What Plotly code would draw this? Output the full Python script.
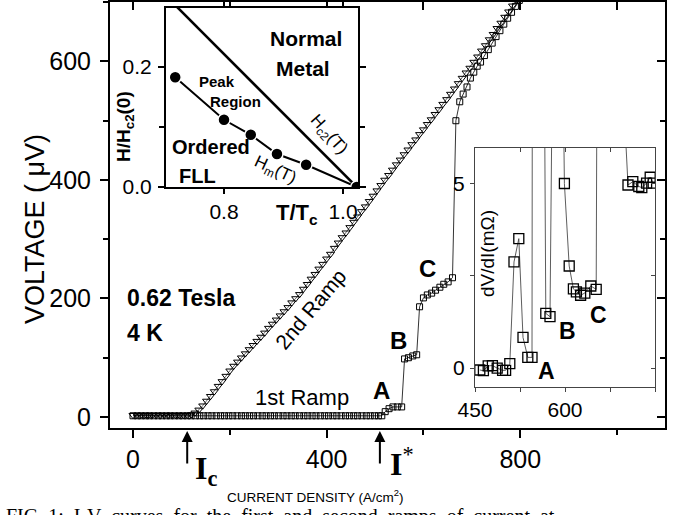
import plotly.graph_objects as go

W, H = 683, 515
def PX(x):
    return x / W
def PY(y):
    return 1 - y / H

# ---------------- data ----------------
# 1st ramp (open squares), current density (A/cm^2) and voltage (uV)
ramp1_x = [0, 9, 17, 26, 34, 43, 52, 60, 69, 77, 86, 95, 103, 112, 120, 129, 138, 146, 155, 163,
           172, 181, 189, 198, 206, 215, 224, 232, 241, 249, 258, 267, 275, 284, 292, 301, 310, 318, 327, 335,
           344, 353, 361, 370, 378, 387, 396, 404, 413, 421, 430, 439, 447, 456, 464, 473, 482, 490, 499, 507,
           514, 521, 529, 537, 546, 555,
           561, 569, 578, 586,
           592, 600, 608, 617, 625, 634, 642, 651, 660,
           667, 675, 682, 690, 697, 704, 711, 718, 726, 734, 742, 750, 758, 766, 774, 782, 790, 798, 806]
ramp1_v = [2, 2, 2, 2, 2, 2, 2, 2, 2, 2, 2, 2, 2, 2, 2, 2, 2, 2, 2, 2,
           2, 2, 2, 2, 2, 2, 2, 2, 2, 2, 2, 2, 2, 2, 2, 2, 2, 2, 2, 2,
           2, 2, 2, 2, 2, 2, 2, 2, 2, 2, 2, 2, 2, 2, 2, 2, 2, 2, 2, 2,
           2, 9, 14, 17, 17, 17,
           98, 100, 103, 105,
           186, 201, 206, 209, 214, 219, 224, 228, 235,
           500, 532, 545, 557, 572, 582, 592, 599, 610, 620, 631, 642, 652, 663, 673, 683, 693, 703, 712]

# 2nd ramp (open triangles)
ramp2_x = [0, 8, 16, 24, 32, 40, 48, 56, 64, 72, 80, 88, 96, 104, 112,
           120, 128, 136, 144, 152, 160, 168, 176, 184, 192, 200, 208,
           216, 224, 232, 240, 248, 256, 264, 272, 280,
           288, 296, 304, 312, 320, 328, 336, 344,
           352, 360, 368, 376, 384, 392, 400, 408,
           416, 424, 432, 440, 448, 456, 464, 472,
           480, 488, 496, 504, 512, 520, 528, 536, 544,
           552, 560, 568, 576, 584, 592, 600,
           608, 616, 624, 632, 640, 648, 656,
           664, 672, 680, 688, 696,
           704, 712, 720, 728, 736, 744, 752, 760, 768, 776, 784, 792]
ramp2_v = [3, 3, 3, 3, 3, 3, 3, 3, 3, 3, 3, 3, 3, 3, 3,
           4, 7, 12, 19, 27, 35, 43, 52, 60, 69, 78, 86,
           93, 100, 107, 114, 121, 128, 135, 142, 150,
           157, 164, 171, 178, 185, 193, 200, 207,
           216, 224, 233, 241, 250, 258, 267, 275,
           285, 294, 303, 311, 320, 329, 338, 347,
           355, 364, 373, 382, 391, 400, 408, 417, 426,
           434, 443, 451, 460, 468, 477, 485,
           494, 502, 511, 519, 528, 536, 545,
           554, 563, 572, 581, 589,
           599, 608, 618, 627, 637, 646, 656, 665, 675, 684, 694, 703]

# inset 1: phase diagram
hc2_t = [0.721, 1.023]
hc2_h = [0.300, 0.0]
hm_t = [0.718, 0.800, 0.845, 0.889, 0.938, 1.023]
hm_h = [0.183, 0.112, 0.087, 0.055, 0.037, 0.0]

# inset 2: dV/dI vs current density
didv_x = [458, 464, 472, 479, 487, 496, 501, 508, 515, 523, 530, 538, 545, 549, 568, 575, 582, 590,
          599, 607, 614, 619, 626, 633, 643, 652, 660, 667, 675, 682, 690, 697,
          705, 713, 723, 728, 736, 742, 747]
didv_y = [-0.05, -0.07, 0.06, 0.07, 0.0, -0.06, -0.06, 0.12, 2.87, 3.5, 0.83, 0.29, 0.29, 55, 1.48, 1.39, 13.6, 17.3,
          4.99, 2.76, 2.14, 2.06, 1.97, 2.03, 2.22, 2.13, 40, 60, 45, 25, 12, 7.5,
          4.95, 5.04, 4.91, 4.88, 5.0, 5.16, 5.0]

main_xr = [-47.5, 1099]
main_yr = [-18.6, 700.4]
in1_xr = [0.7025, 1.0252]
in1_yr = [0, 0.2983]
in2_xr = [450, 750]
in2_yr = [-0.51, 5.95]
in2_xticks = [450, 600]

SANS = "Liberation Sans, Arial, Helvetica, sans-serif"
SERIF = "Liberation Serif, Times New Roman, serif"

fig = go.Figure()

# main traces
fig.add_trace(go.Scatter(x=ramp1_x, y=ramp1_v, mode="lines+markers",
                         line=dict(color="black", width=0.8),
                         marker=dict(symbol="square-open", size=6, color="black", line=dict(width=1)),
                         xaxis="x", yaxis="y", showlegend=False, hoverinfo="skip"))
fig.add_trace(go.Scatter(x=ramp2_x, y=ramp2_v, mode="lines+markers",
                         line=dict(color="black", width=0.6),
                         marker=dict(symbol="triangle-down-open", size=7, color="black", line=dict(width=1)),
                         xaxis="x", yaxis="y", showlegend=False, hoverinfo="skip"))
# mirror tick holder for main
fig.add_trace(go.Scatter(x=[], y=[], xaxis="x4", yaxis="y4", showlegend=False))

# inset 1
fig.add_trace(go.Scatter(x=hc2_t, y=hc2_h, mode="lines", line=dict(color="black", width=2.5),
                         xaxis="x2", yaxis="y2", showlegend=False, hoverinfo="skip"))
fig.add_trace(go.Scatter(x=hm_t, y=hm_h, mode="lines+markers", line=dict(color="black", width=2),
                         marker=dict(symbol="circle", size=12, color="black", line=dict(color="white", width=1.5)),
                         xaxis="x2", yaxis="y2", showlegend=False, hoverinfo="skip"))

# inset 2
fig.add_trace(go.Scatter(x=didv_x, y=didv_y, mode="lines+markers",
                         line=dict(color="#333333", width=0.8),
                         marker=dict(symbol="square-open", size=10, color="black", line=dict(width=1.3)),
                         xaxis="x3", yaxis="y3", showlegend=False, hoverinfo="skip"))
fig.add_trace(go.Scatter(x=[], y=[], xaxis="x5", yaxis="y5", showlegend=False))

def ax_common(**kw):
    d = dict(showgrid=False, zeroline=False, showline=True, linecolor="black",
             tickcolor="black", ticks="outside", automargin=False)
    d.update(kw)
    return d

fig.update_layout(
    width=W, height=H, autosize=False,
    margin=dict(l=0, r=0, t=0, b=0, pad=0, autoexpand=False),
    paper_bgcolor="white", plot_bgcolor="white",
    font=dict(family=SANS, color="black"),
    xaxis=ax_common(domain=[PX(110), PX(665)], range=main_xr, anchor="y",
                    tick0=0, dtick=400, ticklen=8, tickwidth=2, linewidth=2, mirror=True,
                    minor=dict(dtick=200, ticklen=5, tickwidth=2, ticks="outside", tickcolor="black"),
                    tickfont=dict(size=25, family=SANS)),
    yaxis=ax_common(domain=[PY(428), PY(2)], range=main_yr, anchor="x",
                    tick0=0, dtick=200, ticklen=8, tickwidth=2, linewidth=2, mirror=True,
                    minor=dict(dtick=100, ticklen=5, tickwidth=2, ticks="outside", tickcolor="black"),
                    tickfont=dict(size=25, family=SANS), ticklabelstandoff=4),
    xaxis4=dict(overlaying="x", side="top", anchor="y", range=main_xr, showgrid=False, zeroline=False,
                showline=False, ticks="inside", tick0=0, dtick=200, ticklen=8, tickwidth=2, tickcolor="black",
                showticklabels=False, automargin=False),
    yaxis4=dict(overlaying="y", side="right", anchor="x", range=main_yr, showgrid=False, zeroline=False,
                showline=False, ticks="inside", tick0=0, dtick=200, ticklen=8, tickwidth=2, tickcolor="black",
                minor=dict(dtick=100, ticklen=5, tickwidth=2, ticks="inside", tickcolor="black"),
                showticklabels=False, automargin=False),
    xaxis2=ax_common(domain=[PX(166), PX(358)], range=in1_xr, anchor="y2",
                     tick0=0.8, dtick=0.2, ticklen=5, tickwidth=1.5, linewidth=2, mirror="ticks",
                     tickformat=".1f", tickfont=dict(size=21, family=SANS)),
    yaxis2=ax_common(domain=[PY(187), PY(8)], range=in1_yr, anchor="x2",
                     tick0=0, dtick=0.2, ticklen=6, tickwidth=1.5, linewidth=2, mirror="ticks",
                     minor=dict(dtick=0.1, ticklen=5, tickwidth=1.5, ticks="outside", tickcolor="black"),
                     tickformat=".1f", tickfont=dict(size=21, family=SANS), ticklabelstandoff=2),
    xaxis3=ax_common(domain=[PX(475), PX(655)], range=in2_xr, anchor="y3",
                     tickmode="array", tickvals=in2_xticks, ticklen=4, tickwidth=1, linewidth=1,
                     linecolor="#444444", mirror=True,
                     minor=dict(tick0=450, dtick=75, ticklen=4, tickwidth=1, ticks="outside", tickcolor="#444444"),
                     tickcolor="#444444", tickfont=dict(size=21, family=SANS)),
    yaxis3=ax_common(domain=[PY(387), PY(148)], range=in2_yr, anchor="x3",
                     tick0=0, dtick=5, ticklen=4, tickwidth=1, linewidth=1, linecolor="#444444", mirror=True,
                     minor=dict(dtick=2.5, ticklen=4, tickwidth=1, ticks="outside", tickcolor="#444444"),
                     tickcolor="#444444", tickfont=dict(size=21, family=SANS), ticklabelstandoff=1),
    xaxis5=dict(overlaying="x3", side="top", anchor="y3", range=in2_xr, showgrid=False, zeroline=False,
                showline=False, ticks="inside", tick0=450, dtick=75, ticklen=4, tickwidth=1, tickcolor="#444444",
                showticklabels=False, automargin=False),
    yaxis5=dict(overlaying="y3", side="right", anchor="x3", range=in2_yr, showgrid=False, zeroline=False,
                showline=False, ticks="inside", tick0=0, dtick=2.5, ticklen=4, tickwidth=1, tickcolor="#444444",
                showticklabels=False, automargin=False),
)

ann = []
def txt(x, y, s, size, bold=False, angle=0, family=SANS, xanchor="center", yanchor="middle"):
    if bold:
        s = "<b>" + s + "</b>"
    ann.append(dict(x=PX(x), y=PY(y), xref="paper", yref="paper", text=s, showarrow=False,
                    font=dict(size=size, family=family, color="black"), textangle=angle,
                    xanchor=xanchor, yanchor=yanchor))

# main axis titles
txt(35, 229, "VOLTAGE ( \u03bcV)", 27, angle=-90)
txt(315, 496, "CURRENT DENSITY (A/cm<sup>2</sup>)", 13.5)
# main labels
txt(125, 298, "0.62 Tesla", 23, bold=True, xanchor="left")
txt(125, 333, "4 K", 23, bold=True, xanchor="left")
txt(302, 397, "1st Ramp", 22)
txt(310, 309, "2nd Ramp", 21, angle=-50)
txt(381, 390, "A", 24, bold=True)
txt(398, 340, "B", 24, bold=True)
txt(427, 268, "C", 24, bold=True)
# inset 2 labels
txt(546, 371, "A", 23, bold=True)
txt(567, 331, "B", 23, bold=True)
txt(598, 315, "C", 23, bold=True)
txt(487, 254, "dV/dI(m\u03a9)", 19, angle=-90)
# inset 1 labels
txt(306, 38, "Normal", 21, bold=True)
txt(303, 69, "Metal", 21, bold=True)
txt(217, 81, "Peak", 15, bold=True)
txt(235, 102, "Region", 15, bold=True)
txt(211, 147, "Ordered", 20, bold=True)
txt(197, 176, "FLL", 20, bold=True)
txt(328, 135, "H<sub>c2</sub>(T)", 17, angle=48)
txt(275, 171, "H<sub>m</sub>(T)", 17, angle=25)
txt(125, 127, "H/H<sub>c2</sub>(0)", 19, bold=True, angle=-90)
txt(297, 214, "T/T<sub>c</sub>", 22, bold=True)
# I_c and I* labels
txt(206, 470, "<b>I<sub>c</sub></b>", 32, family=SERIF)
txt(402, 462, "<b>I</b><sup>*</sup>", 32, family=SERIF)
# caption (cut off at bottom)
txt(4, 503, "FIG. 1:  I-V  curves  for  the  first  and  second  ramps  of  current  at", 20, family=SERIF,
    xanchor="left", yanchor="top")

# arrows
for xv in [112, 510]:
    ann.append(dict(x=xv, y=PY(431), xref="x", yref="paper", text="", showarrow=True,
                    ax=0, ay=34, arrowhead=2, arrowsize=1.1, arrowwidth=2, arrowcolor="black"))

fig.update_layout(annotations=ann)
fig.write_html("out.html", config={"displayModeBar": False},
               post_script="document.body.style.margin='0px';document.body.style.overflow='hidden';")
